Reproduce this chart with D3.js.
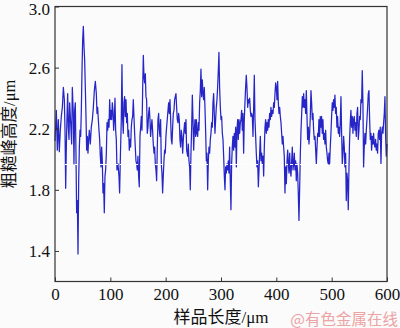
<!DOCTYPE html>
<html>
<head>
<meta charset="utf-8">
<script src="https://cdn.jsdelivr.net/npm/d3@7"></script>
<style>
  html, body { margin: 0; padding: 0; background: #fbfbfc; }
  svg { display: block; }
</style>
</head>
<body>
<svg id="chart" width="400" height="328"></svg>
<script>
// Sample length positions (μm)
const lengthPositions = [
  0,2.4,4.2,6.0,7.8,9.6,11.4,13.3,15.1,16.9,18.1,19.3,20.5,21.7,22.9,24.1,25.3,26.5,28.3,30.1,31.3,33.1,34.3,35.5,36.7,37.9,39.1,40.4,41.6,42.8,44.0,45.2,46.4,47.6,48.8,50.0,51.2,52.4,53.6,54.8,56.0,57.2,58.4,59.6,60.8,62.0,63.8,65.6,67.5,69.3,71.1,72.9,74.7,75.9,77.1,78.3,79.5,80.7,81.9,83.1,84.3,85.5,86.7,87.9,89.1,90.3,91.5,92.8,94.0,95.2,96.4,97.6,98.8,100.0,101.2,102.4,103.6,104.8,106.0,107.2,108.4,109.6,110.8,112.0,113.8,115.6,116.8,118.0,
  119.8,121.0,122.2,123.4,124.6,125.8,127.0,128.3,129.5,130.7,131.9,133.1,134.3,135.5,136.7,137.9,139.1,140.3,141.5,142.7,143.9,145.1,146.3,147.5,148.7,149.9,151.1,152.3,153.6,154.8,156.0,157.2,158.4,159.6,160.8,162.0,163.2,164.4,165.6,166.8,168.0,169.2,170.4,171.6,172.8,174.0,175.2,176.4,177.6,178.9,180.1,181.3,182.5,183.7,184.9,186.1,187.3,188.5,189.7,190.9,192.1,193.3,194.5,195.7,196.9,198.1,199.3,200.5,201.7,202.9,204.2,205.4,206.6,207.8,209.0,210.2,211.4,212.6,213.8,215.0,216.2,217.4,218.6,219.8,221.0,222.2,223.4,224.6,225.8,227.0,228.2,229.5,230.7,231.9,233.1,234.3,235.5,236.7,237.9,
  239.7,240.9,242.1,243.3,244.5,245.7,247.0,248.2,249.4,250.6,251.8,253.0,254.2,255.4,256.6,257.8,259.0,260.2,261.4,262.6,263.8,265.0,266.2,267.4,268.6,269.8,271.0,272.2,273.5,274.7,275.9,277.1,278.3,279.5,280.7,281.9,283.1,284.3,285.5,286.7,287.9,289.1,290.3,291.5,292.7,293.9,295.1,296.3,297.5,298.8,300.0,301.2,302.4,303.6,304.8,306.0,307.2,308.4,309.6,310.8,312.0,313.2,314.4,315.6,316.8,318.0,319.2,320.4,321.6,322.8,324.1,325.3,326.5,327.7,328.9,330.1,331.3,332.5,333.7,334.9,336.1,337.3,338.5,339.7,340.9,342.1,343.3,344.5,345.7,346.9,348.2,349.4,350.6,351.8,353.0,354.2,355.4,
  356.6,357.8,359.0,360.2,361.4,362.6,363.8,365.0,366.2,367.5,368.7,369.9,371.1,372.3,373.5,374.7,375.9,377.1,378.3,379.5,380.7,381.9,383.1,384.3,385.5,386.7,387.9,389.1,390.3,391.5,392.8,394.0,395.2,396.4,397.6,398.8,400.0,401.2,402.4,403.6,404.8,406.0,407.2,408.4,409.6,410.8,412.0,413.2,414.4,415.6,416.8,418.1,419.3,420.5,421.7,422.9,424.1,425.3,426.5,427.7,428.9,430.1,431.3,432.5,433.7,434.9,436.1,437.3,438.5,439.7,440.9,442.2,443.4,444.6,445.8,447.0,448.2,449.4,450.6,451.8,453.0,454.2,455.4,456.6,457.8,459.0,460.2,461.4,462.6,463.8,465.0,466.2,467.4,468.6,469.9,471.1,472.3,473.5,474.7,475.9,
  477.0,478.2,479.4,480.6,481.8,483.0,484.2,485.4,486.7,487.9,489.1,490.3,491.5,492.7,493.9,495.1,496.3,497.5,498.7,499.9,501.1,502.3,503.5,504.7,505.9,507.1,508.3,509.5,510.7,512.0,513.2,514.4,515.6,516.8,518.0,519.2,520.4,521.6,522.8,524.0,525.2,526.4,527.6,528.8,530.0,531.2,532.4,533.6,534.8,536.0,537.3,538.5,539.7,540.9,542.1,543.3,544.5,545.7,546.9,548.1,549.3,550.5,551.7,552.9,554.1,555.3,556.5,557.7,558.9,560.1,561.4,562.6,563.8,565.0,566.2,567.4,568.6,569.8,571.0,572.2,573.4,574.6,575.8,577.0,578.2,579.4,580.6,581.8,583.0,584.2,585.4,586.6,587.8,589.1,590.3,591.5,592.7,593.9,595.1,596.3,597.5,598.7,600
];
// Roughness peak heights (μm)
const peakHeights = [
  2.12,2.32,2.06,2.26,2.05,2.19,2.28,2.34,2.47,2.39,2.19,1.81,2.08,2.28,2.43,2.21,2.13,2.37,2.24,2.10,2.47,2.30,1.97,2.32,2.37,2.04,1.65,1.73,1.38,1.86,2.08,2.19,2.15,2.32,2.58,2.78,2.87,2.74,2.65,2.47,2.28,2.06,2.15,2.04,2.13,2.19,2.10,2.21,2.26,2.34,2.45,2.51,2.43,2.30,2.34,2.26,2.19,2.13,2.02,1.95,2.08,1.99,1.78,1.84,1.65,1.89,1.93,2.04,2.24,2.19,2.26,2.21,2.39,2.26,2.32,2.26,2.37,2.32,2.19,2.26,2.40,2.19,2.13,1.93,1.97,1.89,1.78,1.99,
  2.26,2.62,2.26,2.17,2.37,2.41,2.28,2.39,2.24,2.30,2.15,2.19,2.06,2.13,2.08,2.21,2.26,2.28,2.39,2.28,2.17,2.08,1.99,1.97,1.93,2.02,1.89,1.82,2.15,2.21,2.28,2.19,2.45,2.68,2.54,2.50,2.56,2.41,2.39,2.17,2.21,2.30,2.34,2.26,2.15,2.21,2.26,2.19,2.10,2.04,2.08,1.97,1.93,1.86,2.08,2.26,2.30,2.19,2.15,2.26,1.97,1.91,1.78,1.89,1.99,2.06,2.04,2.15,2.21,2.26,2.32,2.37,2.30,2.39,2.26,2.13,2.10,2.21,2.30,2.32,2.39,2.41,2.43,2.34,2.26,2.24,2.30,2.26,2.13,2.08,2.19,2.15,2.04,2.13,2.19,2.24,2.17,2.26,2.06,
  2.02,2.10,1.99,1.95,1.80,2.04,2.21,2.42,2.26,2.06,2.19,2.26,2.15,2.26,2.17,2.15,2.24,2.19,2.37,2.45,2.59,2.41,2.52,2.43,2.39,2.47,2.34,2.19,1.99,2.04,1.80,1.99,2.08,2.04,2.13,2.17,2.24,2.21,2.37,2.43,2.30,2.17,2.26,2.34,2.39,2.47,2.58,2.70,2.47,2.34,2.26,2.28,2.17,2.13,2.02,1.89,1.80,1.95,1.91,1.97,1.93,1.99,1.91,2.08,1.86,1.67,1.97,2.08,2.15,2.06,2.17,2.08,2.21,1.95,2.19,2.26,2.13,2.26,2.17,2.24,2.26,2.32,2.19,2.30,2.04,2.26,2.37,2.47,2.55,2.47,2.34,2.39,2.37,2.40,2.32,2.28,2.30,
  2.28,2.15,2.34,2.55,2.26,2.15,2.04,1.95,1.99,1.82,1.93,2.04,2.15,1.99,2.04,1.97,2.02,1.89,2.08,2.21,2.26,2.17,2.24,2.19,2.26,2.21,2.30,2.26,2.34,2.28,2.32,2.30,2.37,2.34,2.43,2.50,2.47,2.39,2.51,2.37,2.30,2.34,2.28,2.24,2.17,2.10,2.15,2.08,2.02,1.78,1.95,1.84,1.99,2.06,1.97,1.91,2.04,1.93,1.89,1.99,2.08,1.93,1.97,2.04,1.93,1.99,1.86,1.97,1.91,1.78,1.60,1.82,2.04,2.19,2.30,2.41,2.34,2.43,2.34,2.39,2.30,2.45,2.28,2.13,2.21,2.10,2.17,2.28,2.45,2.37,2.26,2.30,2.19,2.13,2.15,2.06,1.97,2.08,2.17,2.15,
  2.26,2.15,2.28,2.21,2.28,2.17,2.26,2.13,2.17,2.10,2.19,2.08,2.04,1.99,1.97,2.04,1.97,2.08,2.17,2.28,2.37,2.32,2.39,2.34,2.42,2.30,2.34,2.21,2.28,2.17,2.21,2.15,2.24,2.41,2.17,1.97,2.04,2.15,2.08,1.95,2.04,1.73,1.91,1.86,1.67,1.93,2.13,2.24,2.32,2.21,2.28,2.17,2.26,2.28,2.19,2.24,2.15,2.30,2.34,2.13,2.19,2.28,2.26,2.39,2.37,2.58,2.37,1.95,2.08,2.17,2.10,2.19,2.26,2.34,2.43,2.45,2.26,2.13,2.17,2.06,2.15,2.10,2.17,2.10,2.08,2.13,2.06,2.10,2.04,2.17,2.19,2.13,2.21,1.97,2.17,2.21,2.17,2.24,2.30,2.41,2.15,2.02,2.10
];
const xTicks = [0, 100, 200, 300, 400, 500, 600];
const yTicks = [1.4, 1.8, 2.2, 2.6, 3.0];
const referenceLevel = [1.97];
const xTitle = "样品长度/μm";
const yTitle = "粗糙峰高度/μm";
const watermark = "@有色金属在线";

(function () {
const svg = d3.select("#chart");
const mLeft = 55, mRight = 387, mTop = 6.5, mBottom = 281.5;
const x = d3.scaleLinear().domain([0, 600]).range([mLeft, mRight]);
const y = d3.scaleLinear().domain([1.2, 3.0]).range([mBottom, mTop]);

const latin = "'Liberation Serif', 'Times New Roman', 'Noto Sans CJK SC', serif";

// curve
const pts = lengthPositions.map((d, i) => [d, peakHeights[i]]);
svg.append("path")
  .datum(pts)
  .attr("fill", "none")
  .attr("stroke", "#2626c8")
  .attr("stroke-width", 1.25)
  .attr("stroke-linejoin", "round")
  .attr("d", d3.line().x(d => x(d[0])).y(d => y(d[1])));

// white dashed reference line
svg.selectAll(".ref").data(referenceLevel).enter().append("line")
  .attr("x1", mLeft).attr("x2", mRight)
  .attr("y1", d => Math.round(y(d)) + 0.5).attr("y2", d => Math.round(y(d)) + 0.5)
  .attr("stroke", "#ffffff").attr("stroke-width", 1)
  .attr("stroke-dasharray", "3,2");

// frame
svg.append("rect")
  .attr("x", mLeft).attr("y", mTop)
  .attr("width", mRight - mLeft).attr("height", mBottom - mTop)
  .attr("fill", "none").attr("stroke", "#333").attr("stroke-width", 1.2);

// axes
const xAxis = svg.append("g").attr("transform", `translate(0,${mBottom})`)
  .call(d3.axisBottom(x).tickValues(xTicks).tickSize(-4).tickPadding(6).tickFormat(d3.format("d")));
const yAxis = svg.append("g").attr("transform", `translate(${mLeft},0)`)
  .call(d3.axisLeft(y).tickValues(yTicks).tickSize(-4).tickPadding(5).tickFormat(d3.format(".1f")));
[xAxis, yAxis].forEach(g => {
  g.select(".domain").remove();
  g.selectAll(".tick line").attr("stroke", "#333").attr("stroke-width", 1);
  g.selectAll(".tick text").attr("fill", "#111").style("font-family", latin).style("font-size", "17px");
});
// keep the top label fully inside the picture
yAxis.selectAll(".tick text").filter(d => d === 3.0).attr("dy", "0.45em");

// axis titles
svg.append("text")
  .attr("x", (mLeft + mRight) / 2).attr("y", 323)
  .attr("text-anchor", "middle")
  .style("font-family", latin).style("font-size", "17px").attr("fill", "#111")
  .text(xTitle);
svg.append("text")
  .attr("transform", "translate(15,134) rotate(-90)")
  .attr("text-anchor", "middle")
  .style("font-family", latin).style("font-size", "16.5px").attr("fill", "#111")
  .text(yTitle);

// watermark
svg.append("text")
  .attr("x", 398).attr("y", 325)
  .attr("text-anchor", "end")
  .style("font-family", "'Noto Sans CJK SC', sans-serif").style("font-size", "15.5px")
  .attr("fill", "#eba3a3")
  .text(watermark);
})();
</script>
</body>
</html>
